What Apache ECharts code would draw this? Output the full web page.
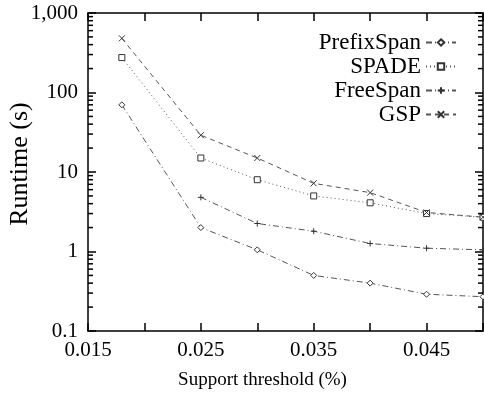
<!DOCTYPE html>
<html><head><meta charset="utf-8">
<script src="https://cdn.jsdelivr.net/npm/echarts@6/dist/echarts.min.js"></script>
<style>html,body{margin:0;padding:0;background:#fff}#c{width:484px;height:401px}</style>
</head><body><div id="c"></div>
<script>
var xValues = [0.018, 0.025, 0.03, 0.035, 0.04, 0.045, 0.05];
var prefixSpan = [70, 2.0, 1.05, 0.5, 0.4, 0.29, 0.27];
var spade = [275, 15, 8, 5.0, 4.1, 3.0, 2.7];
var freeSpan = [null, 4.8, 2.25, 1.8, 1.26, 1.1, 1.05];
var gsp = [480, 29, 15, 7.2, 5.5, 3.1, 2.7];
var xTickLabels = ['0.015', '0.025', '0.035', '0.045'];
var yTickLabels = {'0.1':'0.1','1':'1','10':'10','100':'100','1000':'1,000'};
var yMinorTicks = [0.2,0.3,0.4,0.5,0.6,0.7,0.8,0.9,2,3,4,5,6,7,8,9,20,30,40,50,60,70,80,90,200,300,400,500,600,700,800,900];

var X_MIN = 0.015, X_MAX = 0.05;
function pairs(arr){ var o=[]; for(var i=0;i<xValues.length;i++){ if(arr[i]!=null) o.push([xValues[i],arr[i]]);} return o; }
var font = 'Liberation Serif';
var ink = '#000';
function mkSeries(name, data, symbol, dash){
  return {name:name, type:'line', data:pairs(data), symbol:symbol, symbolSize:6,
    lineStyle:{color:'#555', width:1, type:dash},
    itemStyle:{color:'#fff', borderColor:'#333', borderWidth:1},
    emphasis:{disabled:true}, animation:false};
}
function minorTickSeries(xv, offset){
  return {type:'scatter', silent:true, clip:false, animation:false, z:5,
    data:yMinorTicks.map(function(v){ return [xv, v]; }),
    symbol:'rect', symbolSize:[5,1.5], symbolOffset:[offset,0],
    itemStyle:{color:ink, opacity:1}, emphasis:{disabled:true}};
}
var chart = echarts.init(document.getElementById('c'), null, {renderer:'canvas'});
var xAxisBase = {type:'value', min:X_MIN, max:X_MAX, interval:0.005,
  axisLine:{show:true, onZero:false, lineStyle:{color:ink, width:1.5}},
  axisTick:{show:true, inside:true, length:8, lineStyle:{color:ink, width:1.5}},
  splitLine:{show:false}};
var yAxisBase = {type:'log', logBase:10, min:0.1, max:1000,
  axisLine:{show:true, onZero:false, lineStyle:{color:ink, width:1.5}},
  axisTick:{show:true, inside:true, length:8, lineStyle:{color:ink, width:1.5}},
  splitLine:{show:false}};
chart.setOption({
  animation:false,
  grid:{left:88, top:13, right:1, bottom:70, show:false, outerBoundsMode:'none', containLabel:false},
  xAxis:[
    Object.assign({}, xAxisBase, {position:'bottom',
      name:'Support threshold (%)', nameLocation:'middle', nameGap:40, nameMoveOverlap:false,
      nameTextStyle:{fontFamily:font, fontSize:19, color:ink, padding:[0,46,0,0]},
      axisLabel:{show:true, margin:9, fontFamily:font, fontSize:21, color:ink,
        formatter:function(v){ var s=v.toFixed(3); return xTickLabels.indexOf(s)>=0? s : ''; }}}),
    Object.assign({}, xAxisBase, {position:'top', axisLabel:{show:false}})
  ],
  yAxis:[
    Object.assign({}, yAxisBase, {position:'left',
      name:'Runtime (s)', nameLocation:'middle', nameGap:55, nameMoveOverlap:false,
      nameTextStyle:{fontFamily:font, fontSize:26, color:ink, padding:[0,0,0,16]},
      axisLabel:{show:true, margin:10, fontFamily:font, fontSize:21, color:ink,
        formatter:function(v){ var k=String(+v.toPrecision(3)); return yTickLabels[k]||''; }}}),
    Object.assign({}, yAxisBase, {position:'right', axisLabel:{show:false}})
  ],
  legend:{orient:'vertical', right:22, top:26, align:'right', itemWidth:30, itemHeight:8, itemGap:1,
    textStyle:{fontFamily:font, fontSize:23, lineHeight:20, color:ink}, selectedMode:false,
    data:['PrefixSpan','SPADE','FreeSpan','GSP']},
  series:[
    mkSeries('PrefixSpan', prefixSpan, 'diamond', [6,3,1,3]),
    mkSeries('SPADE', spade, 'rect', [1,3]),
    mkSeries('FreeSpan', freeSpan, 'path://M0,5L10,5M5,0L5,10', [6,3,1,3]),
    mkSeries('GSP', gsp, 'path://M0,0L10,10M10,0L0,10', [5,4]),
    minorTickSeries(X_MIN, 2.5),
    minorTickSeries(X_MAX, -2.5)
  ]
});
</script></body></html>
